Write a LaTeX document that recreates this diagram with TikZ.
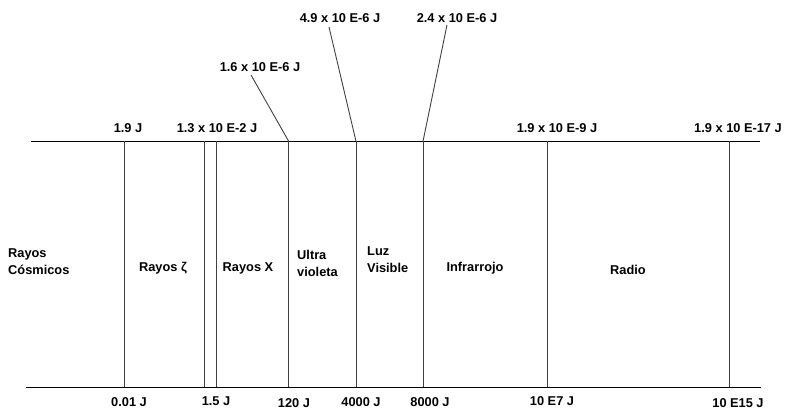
\documentclass[tikz,border=0pt]{standalone}
\usepackage{fontspec}
\setmainfont{Liberation Sans}
\begin{document}
\begin{tikzpicture}[x=1pt,y=-1pt,
  lbl/.style={font=\bfseries\fontsize{12.8}{17}\selectfont, inner sep=0pt},
  lbl2/.style={lbl, align=left, anchor=west},
  ln/.style={draw=black, line width=0.9pt},
  vl/.style={draw=black!75, line width=0.9pt}]
\useasboundingbox (0,0) rectangle (786,409);
% axis ends
\coordinate (tl) at (31,141.3);
\coordinate (tr) at (760,141.3);
\coordinate (bl) at (26,387.3);
\coordinate (br) at (761,387.3);
\draw[ln] (tl) -- (tr);
\draw[ln] (bl) -- (br);
% vertical dividers
\foreach \n/\x in {a/124.5,b/204.3,c/216.5,d/288.7,e/356,f/423,g/547,h/729.3}{
  \coordinate (\n t) at (\x,141.3);
  \coordinate (\n b) at (\x,387.3);
  \draw[vl] (\n t) -- (\n b);
}
% top labels
\node[lbl] (t1) at (128,128) {1.9 J};
\node[lbl] (t2) at (217,128) {1.3 x 10 E-2 J};
\node[lbl] (t3) at (557,128) {1.9 x 10 E-9 J};
\node[lbl] (t4) at (738,128) {1.9 x 10 E-17 J};
% raised labels with leaders
\node[lbl] (u1) at (260,67) {1.6 x 10 E-6 J};
\node[lbl] (u2) at (340,18.5) {4.9 x 10 E-6 J};
\node[lbl] (u3) at (457,18.5) {2.4 x 10 E-6 J};
\coordinate (u1e) at (251,75);
\coordinate (u2e) at (329,27);
\coordinate (u3e) at (447,25);
\draw[vl] (u1e) -- (dt);
\draw[vl] (u2e) -- (et);
\draw[vl] (u3e) -- (ft);
% band labels
\node[lbl2] (m1) at (8,262) {Rayos\\Cósmicos};
\node[lbl] (m2) at (163,268) {Rayos ζ};
\node[lbl] (m3) at (248,268) {Rayos X};
\node[lbl2] (m4) at (297,263.5) {Ultra\\violeta};
\node[lbl2] (m5) at (367,260) {Luz\\Visible};
\node[lbl] (m6) at (475,268) {Infrarrojo};
\node[lbl] (m7) at (628,270) {Radio};
% bottom labels
\node[lbl] (b1) at (129,402) {0.01 J};
\node[lbl] (b2) at (216,401) {1.5 J};
\node[lbl] (b3) at (294,403) {120 J};
\node[lbl] (b4) at (361,402) {4000 J};
\node[lbl] (b5) at (430,402) {8000 J};
\node[lbl] (b6) at (552,401) {10 E7 J};
\node[lbl] (b7) at (738,403) {10 E15 J};
\end{tikzpicture}
\end{document}
